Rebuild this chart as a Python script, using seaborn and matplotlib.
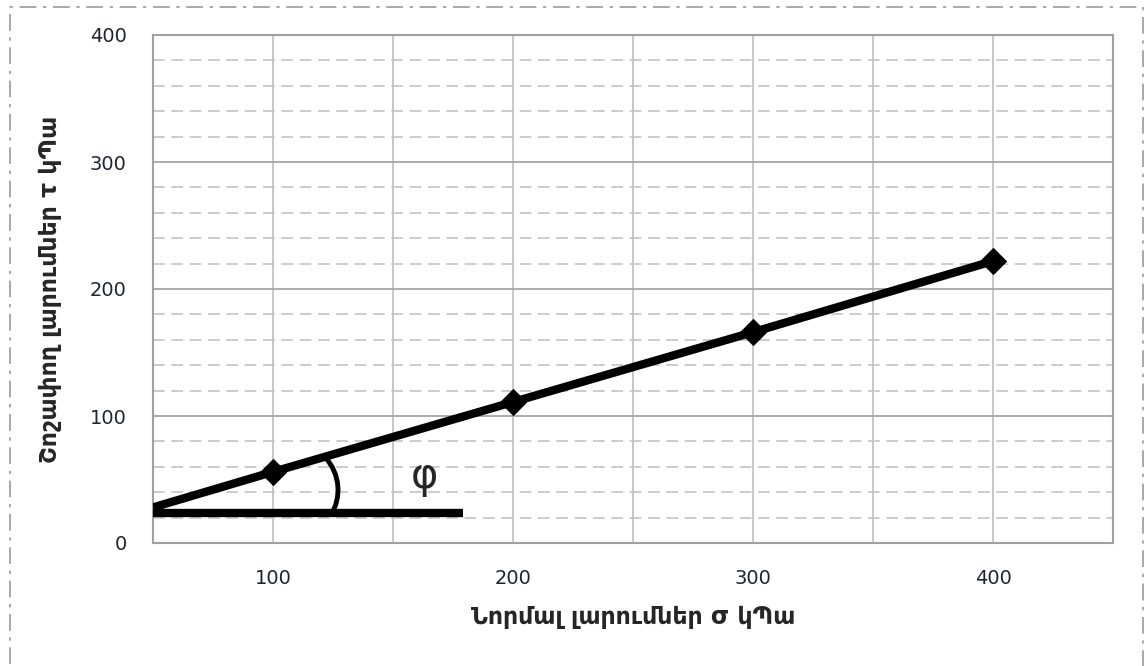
import matplotlib
matplotlib.use("Agg")
import matplotlib.pyplot as plt
from matplotlib.patches import Arc, Rectangle
from matplotlib.ticker import MultipleLocator, FixedLocator
import seaborn as sns
import pandas as pd

# Normal stress (kPa) and shear stress (kPa)
normal_stress = [50, 100, 200, 300, 400]
shear_stress = [28, 56, 111, 166, 222]
# Horizontal reference line for the friction angle
ref_x = [50, 179]
ref_y = [23.5, 23.5]

x_ticks = [100, 200, 300, 400]
y_ticks = [0, 100, 200, 300, 400]

xlabel = "Նորմալ լարումներ σ կՊա"
ylabel = "Շոշափող լարումներ τ կՊա"
angle_label = "φ"

sns.set_theme(style="white")
plt.rcParams["font.family"] = ["DejaVu Sans"]

fig = plt.figure(figsize=(11.45, 6.66), dpi=100)
ax = fig.add_axes([153 / 1145, 123 / 666, 960 / 1145, 508 / 666])

df = pd.DataFrame({"sigma": normal_stress, "tau": shear_stress})
sns.lineplot(data=df, x="sigma", y="tau", ax=ax, color="black", linewidth=6,
             marker="D", markersize=13, markevery=[1, 2, 3, 4],
             markeredgecolor="black", solid_capstyle="butt", sort=False,
             zorder=5)
ax.plot(ref_x, ref_y, color="black", linewidth=6, solid_capstyle="butt", zorder=5)

ax.set_xlim(50, 450)
ax.set_ylim(0, 400)
ax.xaxis.set_major_locator(FixedLocator(x_ticks))
ax.xaxis.set_minor_locator(MultipleLocator(50))
ax.yaxis.set_major_locator(FixedLocator(y_ticks))
ax.yaxis.set_minor_locator(MultipleLocator(20))

ax.grid(which="major", axis="y", color="#a6a6a6", linewidth=1.3, linestyle="-")
ax.grid(which="minor", axis="y", color="#c4c4c4", linewidth=1.2,
        linestyle=(0, (7, 4)))
ax.grid(which="both", axis="x", color="#bdbdbd", linewidth=1.2, linestyle="-")
ax.set_axisbelow(True)

for sp in ax.spines.values():
    sp.set_color("#a0a0a0")
    sp.set_linewidth(1.5)

ax.tick_params(axis="both", which="both", length=0, labelsize=14,
               labelcolor="#1f2430")
ax.tick_params(axis="y", pad=19)
ax.tick_params(axis="x", pad=19)

ax.set_xlabel(xlabel, fontsize=17, fontweight="bold", labelpad=12)
ax.set_ylabel(ylabel, fontsize=17, fontweight="bold", labelpad=20)

# Friction angle marker and label
arc = Arc((2.90, 1.76), 0.96, 0.96, theta1=-32, theta2=42,
          transform=fig.dpi_scale_trans, color="black", linewidth=3.5, zorder=6)
fig.add_artist(arc)
ax.text(163, 53, angle_label, fontsize=30, ha="center", va="center", zorder=6)

# Dash-dot frame around the chart area
frame = Rectangle((10 / 1145, -20 / 666), 1133 / 1145, 679 / 666,
                  transform=fig.transFigure, fill=False, edgecolor="#9a9a9a",
                  linewidth=1.2, linestyle=(0, (10, 4, 2, 4)))
fig.add_artist(frame)

fig.savefig("out.png", dpi=100)
